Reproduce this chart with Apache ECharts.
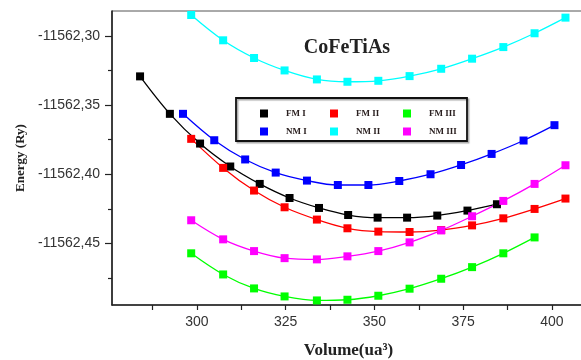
<!DOCTYPE html>
<html>
<head>
<meta charset="utf-8">
<script src="https://cdn.jsdelivr.net/npm/echarts@6/dist/echarts.min.js"></script>
<style>
  html, body { margin: 0; padding: 0; background: #fff; }
  #chart { width: 581px; height: 360px; }
</style>
</head>
<body>
<div id="chart"></div>
<script>
// energies are plotted relative to BASE, labels add it back
const BASE = -11562

const seriesNames = ['FM I', 'FM II', 'FM III', 'NM I', 'NM II', 'NM III']
const seriesColors = ['#000000', '#ff0000', '#00ff00', '#0000ff', '#00ffff', '#ff00ff']

const volFM1 = [284.0, 292.4, 300.9, 309.4, 317.7, 326.1, 334.4, 342.6, 350.9, 359.2, 367.7, 376.2, 384.5]
const eFM1 = [-11562.3292, -11562.3563, -11562.3778, -11562.3944, -11562.4070, -11562.4172, -11562.4244,
  -11562.4295, -11562.4314, -11562.4314, -11562.4299, -11562.4263, -11562.4217]

const volFM2 = [298.4, 307.4, 316.1, 324.7, 333.8, 342.4, 351.1, 359.9, 368.8, 377.5, 386.3, 395.1, 403.8]
const eFM2 = [-11562.3744, -11562.3954, -11562.4118, -11562.4239, -11562.4328, -11562.4391, -11562.4415,
  -11562.4418, -11562.4404, -11562.4370, -11562.4319, -11562.4251, -11562.4176]

const volFM3 = [298.4, 307.4, 316.1, 324.7, 333.8, 342.4, 351.1, 359.9, 368.8, 377.5, 386.3, 395.1]
const eFM3 = [-11562.4572, -11562.4725, -11562.4826, -11562.4884, -11562.4913, -11562.4908, -11562.4879,
  -11562.4828, -11562.4756, -11562.4672, -11562.4572, -11562.4457]

const volNM1 = [296.1, 304.9, 313.6, 322.2, 331.0, 339.7, 348.3, 357.0, 365.8, 374.4, 383.0, 392.0, 400.7]
const eNM1 = [-11562.3563, -11562.3754, -11562.3893, -11562.3988, -11562.4046, -11562.4078, -11562.4078,
  -11562.4049, -11562.4000, -11562.3933, -11562.3853, -11562.3756, -11562.3645]

const volNM2 = [298.4, 307.4, 316.1, 324.7, 333.8, 342.4, 351.1, 359.9, 368.8, 377.5, 386.3, 395.1, 403.8]
const eNM2 = [-11562.2848, -11562.3031, -11562.3159, -11562.3249, -11562.3314, -11562.3331, -11562.3324,
  -11562.3290, -11562.3237, -11562.3164, -11562.3080, -11562.2980, -11562.2867]

const volNM3 = [298.4, 307.4, 316.1, 324.7, 333.8, 342.4, 351.1, 359.9, 368.8, 377.5, 386.3, 395.1, 403.8]
const eNM3 = [-11562.4333, -11562.4471, -11562.4556, -11562.4607, -11562.4616, -11562.4594, -11562.4556,
  -11562.4493, -11562.4406, -11562.4304, -11562.4193, -11562.4070, -11562.3935]

const xMajorTicks = [300, 325, 350, 375, 400]
const xMinorTicks = [287.5, 312.5, 337.5, 362.5, 387.5]
const yMajorTicks = [-11562.30, -11562.35, -11562.40, -11562.45]
const yMinorTicks = [-11562.325, -11562.375, -11562.425, -11562.475]

const allVols = [volFM1, volFM2, volFM3, volNM1, volNM2, volNM3]
const allEs = [eFM1, eFM2, eFM3, eNM1, eNM2, eNM3]

const rel = (e) => +(e - BASE).toFixed(5)

const chart = echarts.init(document.getElementById('chart'))

const serifBold = { fontFamily: 'Liberation Serif', fontWeight: 'bold', color: '#222' }
const yMin = -0.4946, yMax = -0.2819

const legendCol = (data, left) => ({
  data: data,
  orient: 'vertical',
  left: left,
  top: 104,
  icon: 'rect',
  itemWidth: 8,
  itemHeight: 8,
  itemGap: 9,
  textStyle: { ...serifBold, fontSize: 9, padding: [0, 0, 0, 13], color: '#2a2020' },
})

chart.setOption({
  animation: false,
  backgroundColor: '#fff',
  grid: {
    left: 112, top: 11, right: -4, bottom: 55,
    outerBoundsMode: 'none',
    show: true, borderColor: '#555', borderWidth: 1,
  },
  title: {
    text: 'CoFeTiAs',
    left: 342,
    top: 33,
    textAlign: 'center',
    textStyle: { ...serifBold, fontSize: 20 },
  },
  legend: [
    legendCol(['FM I', 'NM I'], 255),
    legendCol(['FM II', 'NM II'], 325),
    legendCol(['FM III', 'NM III'], 398),
  ],
  graphic: [
    {
      type: 'rect',
      shape: { x: 236, y: 98, width: 231, height: 43 },
      style: { fill: 'rgba(0,0,0,0)', stroke: '#111', lineWidth: 1.8, shadowColor: 'rgba(0,0,0,0.35)', shadowOffsetX: 1.5, shadowOffsetY: 1.5, shadowBlur: 1 },
      z: 10,
    },
  ],
  xAxis: [
    {
      type: 'value',
      min: 276.1,
      max: 409.3,
      name: 'Volume(ua³)',
      nameLocation: 'middle',
      nameGap: 37,
      nameTextStyle: { ...serifBold, fontSize: 17 },
      axisLine: { show: true, onZero: false, lineStyle: { color: '#222', width: 1.6 } },
      axisTick: { show: true, customValues: xMajorTicks.concat(xMinorTicks), length: 5, lineStyle: { color: '#222', width: 1.2 } },
      axisLabel: { customValues: xMajorTicks, fontFamily: 'Liberation Sans', fontSize: 14, color: '#333', margin: 10 },
      splitLine: { show: false },
    },
  ],
  yAxis: [
    {
      type: 'value',
      min: yMin,
      max: yMax,
      position: 'left',
      name: 'Energy (Ry)',
      nameLocation: 'middle',
      nameGap: 83,
      nameRotate: 90,
      nameTextStyle: { ...serifBold, fontSize: 13 },
      axisLine: { show: true, onZero: false, lineStyle: { color: '#222', width: 1.6 } },
      axisTick: { show: true, customValues: yMajorTicks.map(rel), length: 7, lineStyle: { color: '#222', width: 1.2 } },
      axisLabel: {
        customValues: yMajorTicks.map(rel),
        fontFamily: 'Liberation Sans',
        fontSize: 14,
        color: '#333',
        margin: 12,
        formatter: (v) => (BASE + v).toFixed(2).replace('.', ','),
      },
      splitLine: { show: false },
    },
    {
      type: 'value',
      min: yMin,
      max: yMax,
      position: 'left',
      axisLine: { show: false },
      axisTick: { show: true, customValues: yMinorTicks.map(rel), length: 4, lineStyle: { color: '#222', width: 1.2 } },
      axisLabel: { show: false },
      splitLine: { show: false },
    },
  ],
  series: seriesNames.map((name, i) => ({
    name: name,
    type: 'line',
    smooth: 0.35,
    symbol: 'rect',
    symbolSize: 8,
    data: allVols[i].map((v, j) => [v, rel(allEs[i][j])]),
    lineStyle: { color: seriesColors[i], width: 1.3 },
    itemStyle: { color: seriesColors[i] },
  })),
})
</script>
</body>
</html>
